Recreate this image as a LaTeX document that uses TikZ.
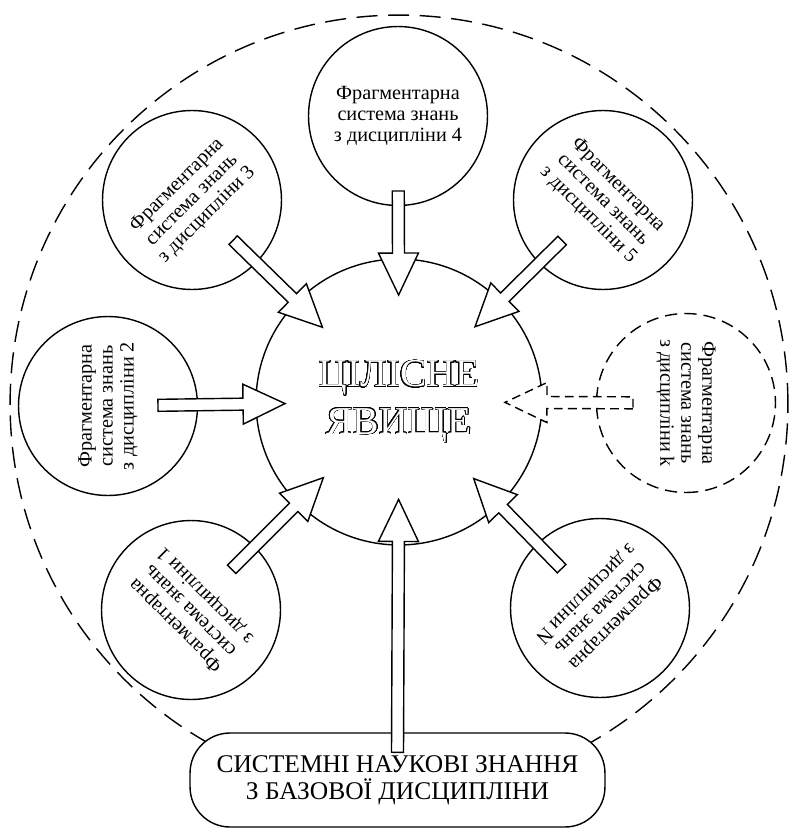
\documentclass[tikz,border=0pt]{standalone}
\usepackage{fontspec}
\setmainfont{Liberation Serif}
\usepackage{contour}
\contourlength{0.3pt}
\contournumber{32}
\usetikzlibrary{calc}

\newcommand{\hollow}[1]{\contour{black}{\textcolor{white}{#1}}}

% block arrow from #2 to tip #3
\newcommand{\blockarrow}[3][]{%
    \coordinate (ba-s) at (#2);
    \coordinate (ba-t) at (#3);
    \coordinate (ba-b) at ($(ba-t)!0.84cm!(ba-s)$);
    \draw[blockarr, #1]
        ($(ba-s)!0.12cm!90:(ba-t)$) -- ($(ba-b)!0.12cm!90:(ba-t)$)
        -- ($(ba-b)!0.4cm!90:(ba-t)$) -- (ba-t)
        -- ($(ba-b)!0.4cm!-90:(ba-t)$) -- ($(ba-b)!0.12cm!-90:(ba-t)$)
        -- ($(ba-s)!0.12cm!-90:(ba-t)$) -- cycle;
}

\begin{document}
\begin{tikzpicture}[
        x=0.02cm, y=-0.02cm,
        field/.style={
            circle,
            draw=black,
            line width=0.8pt,
            dash pattern=on 12pt off 6pt,
            minimum size=15.56cm,
            inner sep=0pt
        },
        satellite/.style={
            circle,
            draw=black,
            fill=white,
            line width=0.8pt,
            minimum size=3.58cm,
            inner sep=0pt,
            align=center,
            font=\fontsize{11.5}{12}\selectfont
        },
        core/.style={
            circle,
            draw=black,
            fill=white,
            line width=0.8pt,
            minimum size=5.72cm,
            inner sep=0pt,
            align=center,
            font=\fontsize{22.5}{27}\selectfont
        },
        basebox/.style={
            rectangle,
            draw=black,
            fill=white,
            line width=0.8pt,
            rounded corners=0.8cm,
            minimum width=8.3cm,
            minimum height=1.88cm,
            align=center,
            font=\fontsize{14.5}{15.5}\selectfont
        },
        blockarr/.style={
            draw=black,
            fill=white,
            line width=0.8pt,
            line join=miter
        }
    ]
    \useasboundingbox (0,0) rectangle (789,839);

    % --- outer field ---
    \node[field] (field) at (399,404) {};

    % --- fragmentary systems ---
    \node[satellite] (s4) at (398,116) {Фрагментарна\\система знань\\з дисципліни 4};
    \node[satellite, rotate=45] (s3) at (192,200) {Фрагментарна\\система знань\\з дисципліни 3};
    \node[satellite, rotate=-45] (s5) at (603,200) {Фрагментарна\\система знань\\з дисципліни 5};
    \node[satellite, rotate=90] (s2) at (108,406) {Фрагментарна\\система знань\\з дисципліни 2};
    \node[satellite, rotate=-90, dash pattern=on 7pt off 4pt] (sk) at (686,403) {Фрагментарна\\система знань\\з дисципліни k};
    \node[satellite, rotate=135] (s1) at (191,610) {Фрагментарна\\система знань\\з дисципліни 1};
    \node[satellite, rotate=-135] (sn) at (600,608) {Фрагментарна\\система знань\\з дисципліни N};

    % --- whole phenomenon ---
    \node[core] (core) at (399,402) {\hollow{ЦІЛІСНЕ}\\\hollow{ЯВИЩЕ}};

    % --- base discipline ---
    \node[basebox] (base) at (397.5,780) {СИСТЕМНІ НАУКОВІ ЗНАННЯ\\З БАЗОВОЇ ДИСЦИПЛІНИ};

    % Arrows
    \blockarrow{$(s4)!1.5cm!(core)$}{$(core)!2.14cm!(s4)$}
    \blockarrow{$(s3)!1.15cm!(core)$}{$(core)!2.14cm!(s3)$}
    \blockarrow{$(s5)!1.15cm!(core)$}{$(core)!2.14cm!(s5)$}
    \blockarrow{$(s2)!1.0cm!(core)$}{$(core)!2.28cm!(s2)$}
    \blockarrow[dash pattern=on 5pt off 3pt]{$(sk)!1.06cm!(core)$}{$(core)!2.12cm!(sk)$}
    \blockarrow{$(s1)!1.15cm!(core)$}{$(core)!2.14cm!(s1)$}
    \blockarrow{$(sn)!1.1cm!(core)$}{$(core)!2.14cm!(sn)$}
    \blockarrow{$(base.north)+(0,20)$}{$(core)!1.95cm!(base)$}

\end{tikzpicture}
\end{document}
